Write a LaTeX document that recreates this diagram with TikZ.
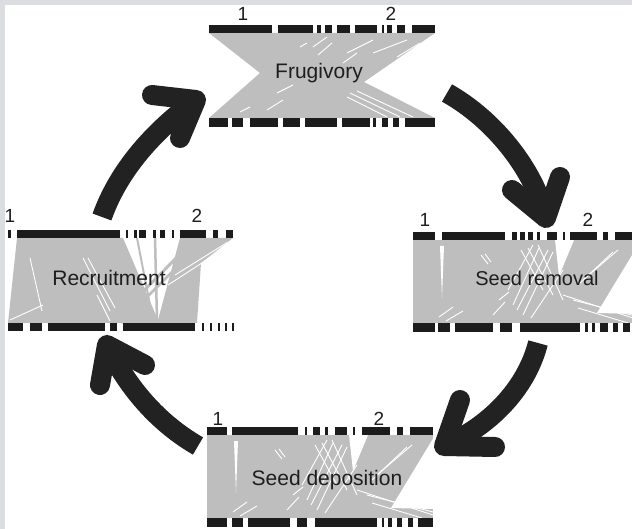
\documentclass[tikz,border=0pt]{standalone}
\usepackage{fontspec}
\setmainfont{Liberation Sans}
\definecolor{linkgray}{RGB}{190,190,190}
\definecolor{barblack}{RGB}{28,28,28}
\definecolor{arrowblack}{RGB}{34,34,34}
\definecolor{framegray}{RGB}{220,221,224}
\definecolor{textdark}{RGB}{30,30,30}
\tikzset{
 links/.style={fill=linkgray},
 gap/.style={fill=white},
 streak/.style={draw=white,line width=0.9pt},
 graystripe/.style={draw=linkgray},
 barseg/.style={fill=barblack},
 arrowbody/.style={draw=arrowblack,line width=20pt,line cap=butt},
 arrowhead/.style={draw=arrowblack,line width=20pt,line cap=round,line join=round},
 paneltext/.style={font=\fontsize{21}{24}\selectfont,text=textdark,inner sep=0pt,anchor=base},
 numlabel/.style={font=\fontsize{19}{22}\selectfont,text=textdark,inner sep=0pt,anchor=base},
}
\newcommand\dispweb{%
  \fill[links] (0,0) rectangle (226,83);
  \fill[gap] (27,6) -- (31,6) -- (29,58) -- cycle;
  \fill[gap] (142,0) -- (161,0) -- (146,36) -- cycle;
  \fill[gap] (227,2) -- (227,74) -- (184,73) -- cycle;
  \draw[streak] (68,15) -- (75,24);
  \draw[streak] (72,14) -- (78,22);
  \draw[streak] (100,65) -- (126,8);
  \draw[streak] (104,70) -- (135,10);
  \draw[streak] (110,75) -- (140,12);
  \draw[streak] (118,78) -- (150,30);
  \draw[streak] (95,50) -- (120,5);
  \draw[streak] (108,10) -- (130,50);
  \draw[streak] (115,8) -- (140,55);
  \draw[streak] (125,5) -- (150,60);
  \draw[streak] (26,77) -- (40,67);
  \draw[streak] (33,81) -- (50,71);
  \draw[streak] (86,60) -- (96,52);
  \draw[streak] (80,75) -- (92,62);
  \draw[streak] (150,55) -- (226,80);
  \draw[streak] (160,60) -- (226,77);
  \draw[streak] (165,68) -- (215,83);
  \draw[streak] (170,40) -- (205,10);
  \draw[streak] (165,45) -- (200,12);
}
\begin{document}
\begin{tikzpicture}[x=1pt,y=-1pt]
\useasboundingbox (0,0) rectangle (632,529);
\fill[white] (0,0) rectangle (632,529);
\fill[framegray] (0,0) rectangle (632,5);
\fill[framegray] (0,0) rectangle (5,529);

% ---------- Frugivory ----------
\fill[links] (209,33) -- (435,33) -- (364,82) -- (435,118) -- (209,118) -- (260,73) -- cycle;
\draw[streak] (313,47) -- (327,37);
\draw[streak] (318,55) -- (332,43);
\draw[streak] (343,63) -- (357,53);
\draw[streak] (347,53) -- (373,40);
\draw[streak] (373,53) -- (407,40);
\draw[streak] (397,57) -- (420,43);
\draw[streak] (347,97) -- (387,117);
\draw[streak] (350,93) -- (400,117);
\draw[streak] (357,91) -- (413,117);
\draw[streak] (267,110) -- (283,100);
\draw[streak] (277,93) -- (293,85);
\draw[streak] (240,112) -- (250,107);
\draw[streak] (300,47) -- (307,43);
\foreach \a/\b in {209/272,278/313,317/321,325/332,337/350,355/377,382/383.5,387/392,397/405,412/435}
  \fill[barseg] (\a,25) rectangle (\b,33);
\foreach \a/\b in {209/228,232/243,250/278,283/300,305/337,342/370,373/376,382/388,393/399,405/435}
  \fill[barseg] (\a,118) rectangle (\b,127);
\node[numlabel] (f1) at (243,21) {1};
\node[numlabel] (f2) at (391,21) {2};
\node[paneltext] (frugivory) at (319,79) {Frugivory};

% ---------- Recruitment ----------
\fill[links] (17,238) -- (123,238) -- (158,320) -- (180,238) -- (233,238) -- (201,263) -- (197,323) -- (8,323) -- cycle;
\draw[graystripe,line width=3pt] (196,238) -- (112,323);
\draw[graystripe,line width=2.5pt] (206,238) -- (121,323);
\draw[graystripe,line width=2.5pt] (155,238) -- (157,320);
\draw[graystripe,line width=2pt] (137,238) -- (150,305);
\draw[streak] (30,258) -- (42,311);
\draw[streak] (83,258) -- (110,311);
\draw[streak] (88,258) -- (115,308);
\draw[streak] (10,320) -- (43,305);
\draw[streak] (97,295) -- (110,321);
\draw[streak] (175,275) -- (228,242);
\draw[streak] (168,285) -- (225,248);
\foreach \a/\b in {8/11,17/120,126/128,134/137,139/146,153/156,160/165,172/174,180/206,213/218,226/233}
  \fill[barseg] (\a,230) rectangle (\b,238);
\foreach \a/\b in {8/23,30/42,48/105,110/117,123/195,202/203.5,210/212,218/220,225/227,232/234}
  \fill[barseg] (\a,323) rectangle (\b,331);
\node[numlabel] (r1) at (10,223) {1};
\node[numlabel] (r2) at (197,223) {2};
\node[paneltext] (recruitment) at (109,286) {Recruitment};

% ---------- Seed removal ----------
\begin{scope}[shift={(413,240)}]
  \dispweb
\end{scope}
\foreach \a/\b in {413/435,442/505,512/517,520/525,528/533,537/540,547/557,563/565,570/597,603/608,615/632}
  \fill[barseg] (\a,232) rectangle (\b,240);
\foreach \a/\b in {413/435,438/450,455/493,500/512,520/580,585/588,592/595,600/608,613/618,623/630}
  \fill[barseg] (\a,323) rectangle (\b,332);
\node[numlabel] (s1) at (425,227) {1};
\node[numlabel] (s2) at (588,227) {2};
\node[paneltext,font=\fontsize{20}{24}\selectfont] (removal) at (537,286) {Seed removal};

% ---------- Seed deposition ----------
\begin{scope}[shift={(207,435)}]
  \dispweb
\end{scope}
\foreach \a/\b in {207/227,232/298,305/307,313/320,325/328,335/347,353/355,362/390,397/403,410/433}
  \fill[barseg] (\a,427) rectangle (\b,435);
\foreach \a/\b in {207/227,232/243,248/290,297/307,315/377,382/384,388/392,397/402,408/413,418/433}
  \fill[barseg] (\a,518) rectangle (\b,527);
\node[numlabel] (d1) at (218,425) {1};
\node[numlabel] (d2) at (379,425) {2};
\node[paneltext] (deposition) at (327,485) {Seed deposition};

% ---------- Arrows ----------
\coordinate (a1t) at (447,93);
\coordinate (a1v) at (546,218);
\draw[arrowbody] (a1t) .. controls (495,120) and (534,170) .. (a1v);
\coordinate (a1w1) at (512,190);
\coordinate (a1w2) at (560,177);
\draw[arrowhead] (a1w1) -- (a1v) -- (a1w2);

\coordinate (a2t) at (538,343);
\coordinate (a2v) at (444,446);
\draw[arrowbody] (a2t) .. controls (526,390) and (488,427) .. (a2v);
\coordinate (a2w1) at (460,400);
\coordinate (a2w2) at (495,447);
\draw[arrowhead] (a2w1) -- (a2v) -- (a2w2);

\coordinate (a3t) at (198,446);
\coordinate (a3v) at (107,345);
\draw[arrowbody] (a3t) .. controls (158,423) and (127,387) .. (a3v);
\coordinate (a3w1) at (100,385);
\coordinate (a3w2) at (145,365);
\draw[arrowhead] (a3w1) -- (a3v) -- (a3w2);

\coordinate (a4t) at (102,217);
\coordinate (a4v) at (196,100);
\draw[arrowbody] (a4t) .. controls (119,169) and (155,130) .. (a4v);
\coordinate (a4w1) at (152,95);
\coordinate (a4w2) at (180,138);
\draw[arrowhead] (a4w1) -- (a4v) -- (a4w2);
\end{tikzpicture}
\end{document}
